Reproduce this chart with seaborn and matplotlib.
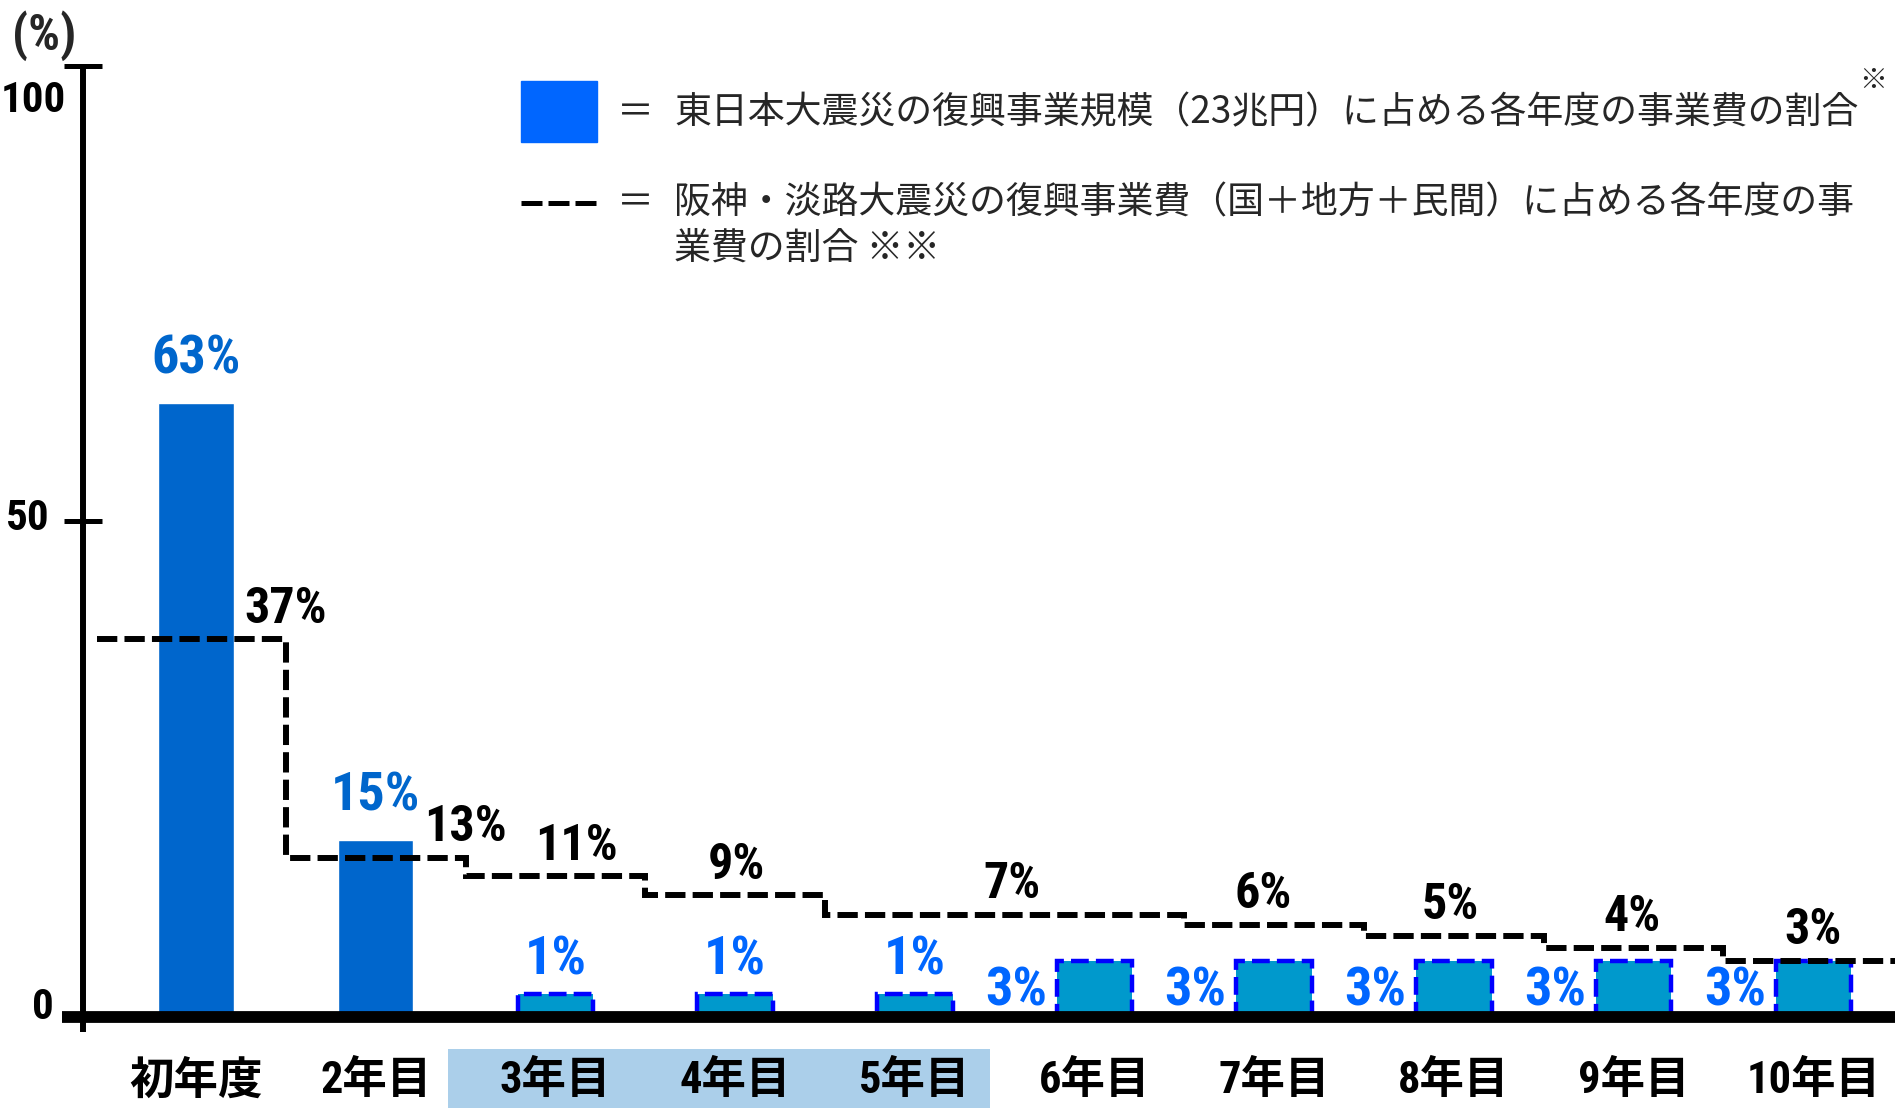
import numpy as np
import matplotlib
matplotlib.use("Agg")
import matplotlib.pyplot as plt
import matplotlib.font_manager as fm
from matplotlib.patches import Rectangle
from matplotlib.lines import Line2D
from matplotlib.ticker import NullLocator
import seaborn as sns

# ── データ (%) ──
years = ["初年度", "2年目", "3年目", "4年目", "5年目",
         "6年目", "7年目", "8年目", "9年目", "10年目"]
tohoku = [63, 15, 1, 1, 1, 3, 3, 3, 3, 3]        # 東日本大震災
hanshin = [37, 13, 11, 9, 7, 7, 6, 5, 4, 3]      # 阪神・淡路大震災
hanshin_labels = ["37%", "13%", "11%", "9%", "7%", "", "6%", "5%", "4%", "3%"]
yticks = [0, 50, 100]
ytick_labels = ["0", "50", "100"]
legend_tohoku = "東日本大震災の復興事業規模（23兆円）に占める各年度の事業費の割合"
legend_hanshin = ["阪神・淡路大震災の復興事業費（国＋地方＋民間）に占める各年度の事",
                  "業費の割合 ※※"]

# ── フォント (数字は細身の太字があればそれを使う) ──
NARROW, STRETCH, SIZE_K = "Roboto", "normal", 0.88
_pref = ["Liberation Sans Narrow", "Arial Narrow", "Roboto Condensed",
         "Open Sans Condensed", "Noto Sans Condensed", "DejaVu Sans Condensed"]
_found = {f.name: f.stretch for f in fm.fontManager.ttflist}
for n in _pref:
    if n in _found:
        NARROW, STRETCH, SIZE_K = n, "normal", 1.0
        break
else:
    for f in fm.fontManager.ttflist:
        if "condensed" in str(f.stretch) and f.weight in ("bold", 700, "700"):
            NARROW, STRETCH, SIZE_K = f.name, f.stretch, 1.0
            break
CJK = "Noto Sans CJK JP"
sns.set_theme(style="white")
plt.rcParams["font.family"] = [CJK, "DejaVu Sans"]

BAR_DARK, BAR_SMALL, EDGE = "#0066CC", "#0099CC", "#0000FF"
LABEL_BLUE, LEGEND_BLUE, HILITE = "#0066FF", "#0066FF", "#ABCFEA"
BAR_W = 0.42
W, H = 1895, 1108
fx = lambda px: px / W
fy = lambda py: 1 - py / H

# 元図は小さい値を誇張して描いているので、それに近い縦軸スケールを使う
A, B = 4.5, 2.5
K = 100 / (100 + A * (1 - np.exp(-100 / B)))


def fwd(v):
    v = np.asarray(v, float)
    return K * (v + A * (1 - np.exp(-np.clip(v, -20, None) / B)))


def inv(u):
    u = np.asarray(u, float)
    v = u / K
    with np.errstate(all="ignore"):
        for _ in range(40):
            vc = np.clip(v, -20, None)
            f = K * (v + A * (1 - np.exp(-vc / B))) - u
            d = K * (1 + np.where(v > -20, A / B * np.exp(-vc / B), 0))
            v = np.where(np.isfinite(v), v - f / d, v)
    return v


fig = plt.figure(figsize=(W / 100, H / 100), dpi=100)
ax = fig.add_axes([fx(83), fy(1017), 1 - fx(83), fy(66) - fy(1017)])

# 東日本大震災の棒
colors = [BAR_DARK] * 2 + [BAR_SMALL] * 8
sns.barplot(x=years, y=tohoku, hue=years, palette=colors, width=BAR_W,
            saturation=1, legend=False, ax=ax, zorder=2)
for p in ax.patches[2:]:
    p.set_edgecolor(EDGE)
    p.set_linewidth(3.2)
    p.set_linestyle((0, (4, 1.6)))

ax.set_yscale("function", functions=(fwd, inv))
ax.set_ylim(0, 100)
ax.set_xlim(-0.629, 9.455)

# 阪神・淡路大震災の階段線
edges = np.r_[-0.55, np.arange(len(hanshin)) + 0.5]
ax.stairs(hanshin, edges, baseline=None, color="black", lw=4.3,
          linestyle=(0, (3.4, 1.2)), zorder=4)

num_font = dict(family=[NARROW, "DejaVu Sans"], fontweight="bold", fontstretch=STRETCH)

# 棒のラベル
for i, v in enumerate(tohoku):
    c = BAR_DARK if i < 2 else LABEL_BLUE
    if i < 5:
        ax.annotate(f"{v}%", xy=(i, v), xytext=(0, 21 if v >= 10 else 14),
                    textcoords="offset points", ha="center", va="baseline",
                    color=c, fontsize=39 * SIZE_K, **num_font)
    else:
        ax.annotate(f"{v}%", xy=(i - BAR_W / 2, v), xytext=(-7, -3),
                    textcoords="offset points", ha="right", va="top",
                    color=c, fontsize=39 * SIZE_K, **num_font)

# 階段線のラベル
label_dx = [0.5, 0.5, 0.12, 0.01, 0.54, 0, -0.06, -0.02, -0.01, 0.0]
for i, (v, lab) in enumerate(zip(hanshin, hanshin_labels)):
    if lab:
        ax.annotate(lab, xy=(i + label_dx[i], v), xytext=(0, 12),
                    textcoords="offset points", ha="center", va="baseline",
                    color="black", fontsize=36 * SIZE_K, **num_font)

# 軸
for s in ax.spines.values():
    s.set_visible(False)
ax.axhline(0, xmin=-(83 - 62) / 1812, xmax=1, color="black", lw=8.5,
           solid_capstyle="butt", clip_on=False, zorder=5)
ax.plot([0, 0], [-(1032 - 1017) / 951, 1], transform=ax.transAxes, color="black",
        lw=4.3, solid_capstyle="butt", clip_on=False, zorder=5)
ax.set_yticks(yticks)
ax.yaxis.set_minor_locator(NullLocator())
ax.tick_params(axis="y", direction="inout", length=27, width=3.6, color="black",
               labelleft=False, left=True)
for t, lab, dx, dy in zip(yticks, ytick_labels, [-21, -24, -12], [-1.5, -6.5, -33]):
    ax.annotate(lab, xy=(0, t), xycoords=ax.get_yaxis_transform(), xytext=(dx, dy),
                textcoords="offset points", ha="right", va="baseline",
                color="black", fontsize=31 * SIZE_K, **num_font)

ax.set_xticks(range(len(years)))
ax.set_xticklabels(years, fontsize=32, fontweight="bold", family=[NARROW, CJK],
                   fontstretch=STRETCH)
ax.tick_params(axis="x", length=0, pad=31, colors="black")
ax.set_xlabel("")
ax.set_ylabel("")
ax.grid(False)

# 3〜5年目の強調帯
ax.axvspan(2 - 0.6, 4 + 0.42, ymin=-(H - 1017) / 951, ymax=-(1049 - 1017) / 951,
           color=HILITE, clip_on=False, zorder=0, lw=0)

fig.text(fx(44), fy(36), "(%)", ha="center", va="center", fontsize=36 * SIZE_K,
         **num_font)

# 凡例
fig.add_artist(Rectangle((fx(521), fy(142)), 76 / W, 61 / H,
                         transform=fig.transFigure, color=LEGEND_BLUE))
fig.add_artist(Line2D([fx(521), fx(596)], [fy(203)] * 2, transform=fig.transFigure,
                      color="black", lw=3.6, linestyle=(0, (4.2, 1.2)),
                      dash_capstyle="butt"))
leg_fs = 26.6
for y in (113, 203):
    fig.text(fx(635), fy(y), "＝", ha="center", va="center", fontsize=leg_fs)
fig.text(fx(674), fy(113), legend_tohoku, ha="left", va="center", fontsize=leg_fs)
fig.text(fx(1873), fy(81), "※", ha="center", va="center", fontsize=20)
fig.text(fx(674), fy(203), legend_hanshin[0], ha="left", va="center", fontsize=leg_fs)
fig.text(fx(674), fy(248), legend_hanshin[1], ha="left", va="center", fontsize=leg_fs)

fig.savefig("out.png", dpi=100)
